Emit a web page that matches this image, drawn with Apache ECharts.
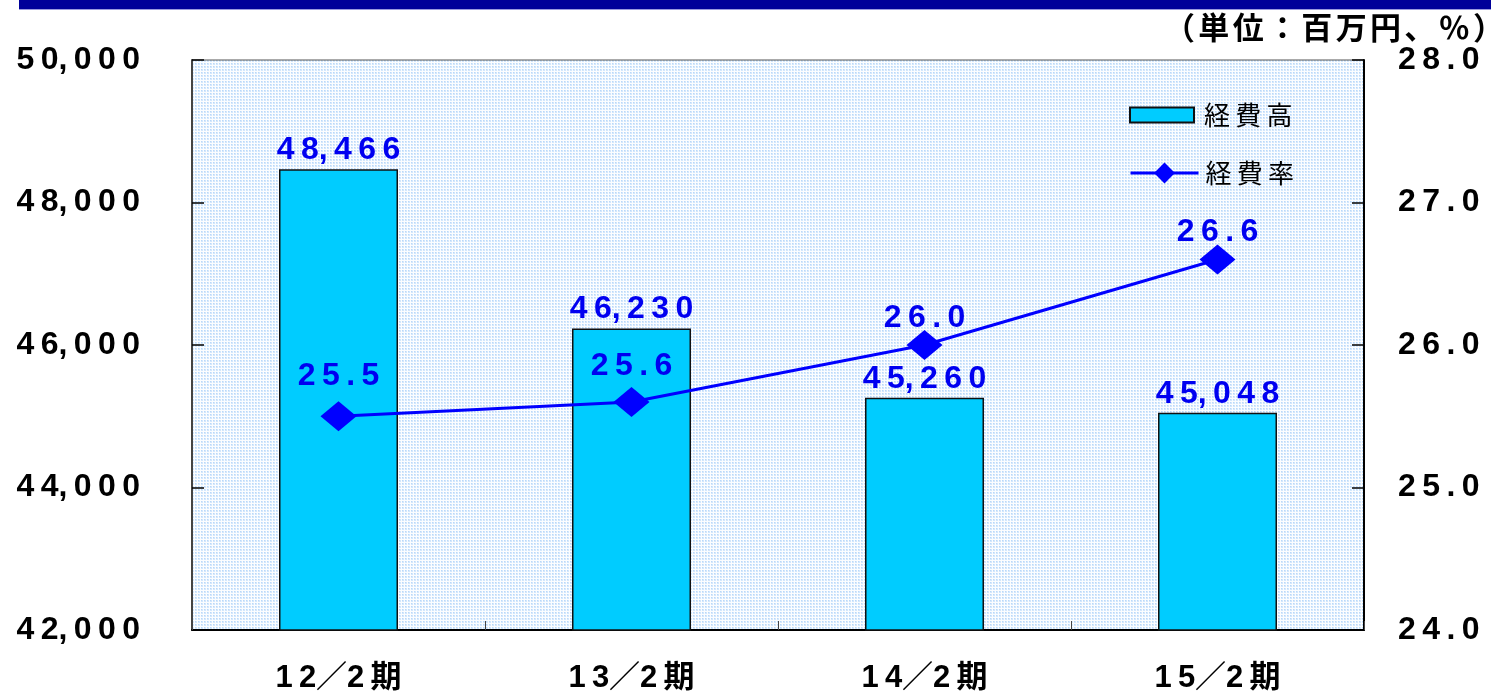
<!DOCTYPE html>
<html>
<head>
<meta charset="utf-8">
<script src="https://cdn.jsdelivr.net/npm/echarts@6/dist/echarts.min.js"></script>
<style>
html,body{margin:0;padding:0;background:#fff;}
#main{width:1491px;height:694px;}
</style>
</head>
<body>
<div id="main"></div>
<script>
const categories = ['12／2期', '13／2期', '14／2期', '15／2期'];
const expenseAmount = [48466, 46230, 45260, 45048];
const expenseRate = [25.5, 25.6, 26.0, 26.6];
const leftTicks = { min: 42000, max: 50000, interval: 2000 };
const rightTicks = { min: 24, max: 28, interval: 1 };
const seriesNames = ['経費高', '経費率'];
const unitText = '（単位：百万円、％）';
// style: per-point label gap above the line markers
const rateLabelGap = [9, 5, -4, -4];

const TS = '\u2009';
const sp = s => String(s).split('').join(TS).split(TS + ',').join(',').split(TS + '／' + TS).join('／');
// rich-text letter spacing for the unit caption
const richSp = s => s.split('').map(c => '{c|' + c + '}').join('{g| }');

// dotted background pattern
const pc = document.createElement('canvas');
pc.width = 3; pc.height = 3;
const pctx = pc.getContext('2d');
pctx.fillStyle = '#fbfdff';
pctx.fillRect(0, 0, 3, 3);
pctx.fillStyle = '#d3e7fc';
pctx.fillRect(0, 0, 2, 2);
pctx.fillStyle = '#b9d8f9';
pctx.fillRect(0, 0, 1, 1);

const numFont = '"Liberation Sans", "Noto Sans CJK JP", sans-serif';
const cjkFont = '"Noto Sans CJK JP", sans-serif';
const chart = echarts.init(document.getElementById('main'));
chart.setOption({
  animation: false,
  backgroundColor: '#ffffff',
  graphic: [
    { type: 'rect', shape: { x: 19, y: 0, width: 1472, height: 9 }, style: { fill: '#000099' }, z: 10 },
    { type: 'rect', shape: { x: 19, y: 9, width: 1472, height: 1 }, style: { fill: '#9a9ade' }, z: 10 },
    { type: 'text', x: 1504, y: 12, style: {
        text: richSp(unitText), align: 'right', verticalAlign: 'top',
        rich: {
          c: { fontFamily: cjkFont, fontSize: 31, fontWeight: 'bold', fill: '#000', color: '#000' },
          g: { fontFamily: '"Liberation Sans"', fontSize: 12, fontWeight: 'bold' }
        },
        fontFamily: cjkFont, fontSize: 31, fontWeight: 'bold', fill: '#000' }, z: 10 }
  ],
  grid: {
    left: 192, right: 127, top: 60, bottom: 62,
    show: true,
    backgroundColor: { image: pc, repeat: 'repeat' },
    borderColor: '#555', borderWidth: 1
  },
  legend: [
    {
      left: 1124, top: 97,
      itemWidth: 64, itemHeight: 15,
      data: [{ name: seriesNames[0], icon: 'rect' }],
      formatter: n => sp(n),
      textStyle: { fontFamily: cjkFont, fontSize: 26, color: '#000', padding: [0, 0, 0, 5] }
    },
    {
      left: 1124, top: 155,
      itemWidth: 68, itemHeight: 26,
      data: [seriesNames[1]],
      lineStyle: { width: 3, color: '#0000ff' },
      formatter: n => sp(n),
      textStyle: { fontFamily: cjkFont, fontSize: 26, color: '#000', padding: [0, 0, 0, 2] }
    }
  ],
  xAxis: {
    type: 'category',
    data: categories,
    axisLine: { lineStyle: { color: '#000', width: 2 } },
    axisTick: { show: true, inside: true, length: 9, alignWithLabel: false, lineStyle: { color: '#444', width: 1 } },
    axisLabel: { margin: 33, fontSize: 31, fontWeight: 'bold', color: '#000', fontFamily: numFont, formatter: v => sp(v) }
  },
  yAxis: [
    {
      type: 'value', min: leftTicks.min, max: leftTicks.max, interval: leftTicks.interval,
      splitLine: { show: false },
      axisLine: { show: true, lineStyle: { color: '#444', width: 2 } },
      axisTick: { show: true, inside: true, length: 12, lineStyle: { color: '#000', width: 1.5 } },
      axisLabel: { margin: 52, fontSize: 32, fontWeight: 'bold', color: '#000', fontFamily: numFont, padding: [10, 0, 0, 0],
        formatter: v => sp(v.toLocaleString('en-US')) }
    },
    {
      type: 'value', min: rightTicks.min, max: rightTicks.max, interval: rightTicks.interval,
      splitLine: { show: false },
      axisLine: { show: true, lineStyle: { color: '#000', width: 2 } },
      axisTick: { show: true, inside: true, length: 12, lineStyle: { color: '#000', width: 1.5 } },
      axisLabel: { margin: 34, fontSize: 32, fontWeight: 'bold', color: '#000', fontFamily: numFont, padding: [10, 0, 0, 0],
        formatter: v => sp(v.toFixed(1)) }
    }
  ],
  series: [
    {
      name: seriesNames[0], type: 'bar', yAxisIndex: 0,
      data: expenseAmount,
      barWidth: 119,
      itemStyle: { color: '#00ccff', borderColor: '#111', borderWidth: 1.5 },
      label: { show: true, position: 'top', distance: 3, color: '#0000f0', fontSize: 32, fontWeight: 'bold', fontFamily: numFont,
        formatter: p => sp(p.value.toLocaleString('en-US')) },
      z: 2
    },
    {
      name: seriesNames[1], type: 'line', yAxisIndex: 1,
      data: expenseRate.map((v, i) => ({ value: v, label: { distance: rateLabelGap[i] } })),
      symbol: 'diamond', symbolSize: [36, 30],
      lineStyle: { color: '#0000ff', width: 3 },
      itemStyle: { color: '#0000ff' },
      label: { show: true, position: 'top', color: '#0000f0', fontSize: 32, fontWeight: 'bold', fontFamily: numFont,
        formatter: p => sp(p.value.toFixed(1)) },
      z: 3
    }
  ]
});
</script>
</body>
</html>
